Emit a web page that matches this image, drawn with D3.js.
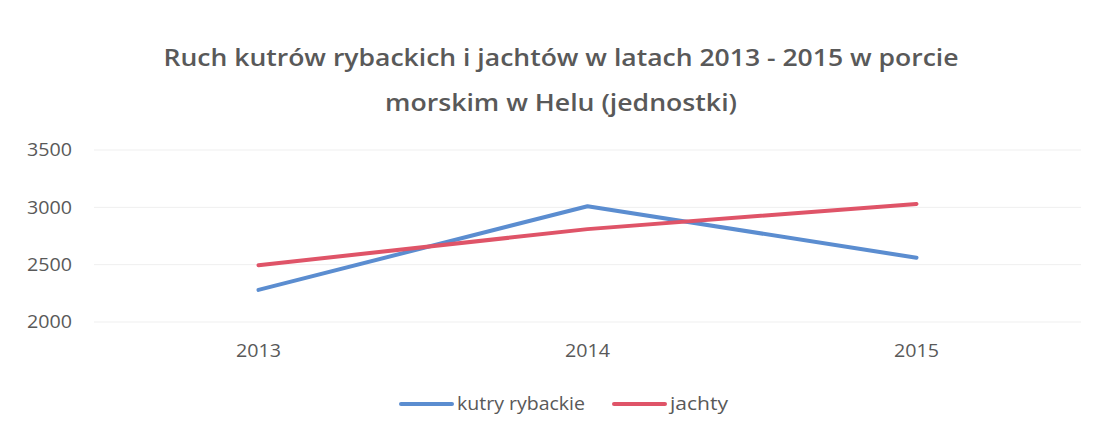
<!DOCTYPE html>
<html>
<head>
<meta charset="utf-8">
<script src="https://cdn.jsdelivr.net/npm/d3@7"></script>
<style>
  body { margin: 0; background: #fff; }
  svg text { font-family: 'Open Sans', 'Noto Sans', sans-serif; fill: #595959; }
</style>
</head>
<body>
<svg id="chart"></svg>
<script>
const years = ["2013", "2014", "2015"]
const kutry = [2280, 3010, 2560]
const jachty = [2495, 2810, 3030]
const yTicks = [2000, 2500, 3000, 3500]
const seriesNames = ["kutry rybackie", "jachty"]
const titleLines = ["Ruch kutrów rybackich i jachtów w latach 2013 - 2015 w porcie", "morskim w Helu (jednostki)"]

const width = 1099, height = 434
const margin = {top: 150, right: 18, bottom: 112, left: 94}
const colors = ["#5b8dd0", "#df5468"]

const svg = d3.select("#chart").attr("width", width).attr("height", height)

const x = d3.scaleBand().domain(years).range([margin.left, width - margin.right])
const y = d3.scaleLinear().domain([2000, 3500]).range([height - margin.bottom, margin.top])

// title
svg.append("g").selectAll("text")
  .data(titleLines)
  .join("text")
    .attr("x", 561)
    .attr("y", (d, i) => 66 + i * 45)
    .attr("text-anchor", "middle")
    .style("font-size", "24px")
    .style("font-weight", "600")
    .attr("textLength", (d, i) => i === 0 ? 795 : 352)
    .attr("lengthAdjust", "spacingAndGlyphs")
    .text(d => d)

// grid
svg.append("g").selectAll("line")
  .data(yTicks)
  .join("line")
    .attr("x1", margin.left).attr("x2", width - margin.right)
    .attr("y1", d => y(d)).attr("y2", d => y(d))
    .attr("stroke", "#efefef").attr("stroke-width", 1)

const labelStyle = g => g.selectAll("text")
  .style("font-size", "18px").style("fill", "#595959")
  .style("font-family", "'Open Sans', sans-serif")

// y axis
const yAxis = g => g
  .attr("transform", `translate(${margin.left - 10},0)`)
  .call(d3.axisLeft(y).tickValues(yTicks).tickFormat(d3.format("d")).tickSize(0).tickPadding(12))
  .call(g => g.select(".domain").remove())
  .call(labelStyle)
  .call(g => g.selectAll("text").attr("textLength", 45).attr("lengthAdjust", "spacingAndGlyphs"))
svg.append("g").call(yAxis)

// x axis
const xAxis = g => g
  .attr("transform", `translate(0,${height - margin.bottom})`)
  .call(d3.axisBottom(x).tickSize(0).tickPadding(22))
  .call(g => g.select(".domain").remove())
  .call(labelStyle)
  .call(g => g.selectAll("text").attr("textLength", 45).attr("lengthAdjust", "spacingAndGlyphs"))
svg.append("g").call(xAxis)

const line = d3.line()
  .x((d, i) => x(years[i]) + x.bandwidth() / 2)
  .y(d => y(d))

svg.append("g").selectAll("path")
  .data([kutry, jachty])
  .join("path")
    .attr("d", d => line(d))
    .attr("fill", "none")
    .attr("stroke", (d, i) => colors[i])
    .attr("stroke-width", 4)
    .attr("stroke-linecap", "round")
    .attr("stroke-linejoin", "round")

// legend
const legendX = [401, 614]
const legendTextW = [128, 58]
const legend = svg.append("g").selectAll("g")
  .data(seriesNames)
  .join("g")
    .attr("transform", (d, i) => `translate(${legendX[i]},404)`)
legend.append("line")
  .attr("x1", 0).attr("x2", 51)
  .attr("stroke", (d, i) => colors[i])
  .attr("stroke-width", 4)
  .attr("stroke-linecap", "round")
legend.append("text")
  .attr("x", 56).attr("dy", "0.35em")
  .style("font-size", "18px")
  .attr("textLength", (d, i) => legendTextW[i])
  .attr("lengthAdjust", "spacingAndGlyphs")
  .text(d => d)
</script>
</body>
</html>
